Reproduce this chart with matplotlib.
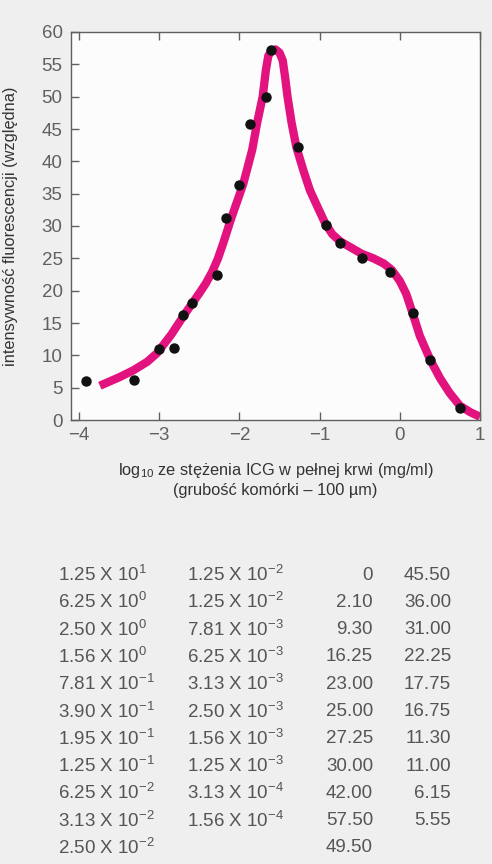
import numpy as np
import matplotlib
matplotlib.use("Agg")
import matplotlib.pyplot as plt

plt.rcParams["font.family"] = ["Liberation Sans", "DejaVu Sans"]
plt.rcParams["mathtext.default"] = "regular"

# measured points (log10 concentration, relative fluorescence)
pts_x = [-3.91, -3.32, -3.00, -2.82, -2.70, -2.59, -2.28, -2.17, -2.00, -1.87,
         -1.67, -1.61, -1.27, -0.92, -0.74, -0.475, -0.12, 0.16, 0.38, 0.75]
pts_y = [6.0, 6.2, 11.0, 11.1, 16.3, 18.1, 22.5, 31.2, 36.3, 45.8,
         49.9, 57.2, 42.2, 30.1, 27.4, 25.1, 22.9, 16.5, 9.3, 1.8]

# hand-drawn fit curve
curve_x = [-3.74, -3.5, -3.32, -3.15, -3.03, -2.85, -2.675, -2.5, -2.42, -2.34,
           -2.27, -2.2, -2.11, -2.0, -1.95, -1.84, -1.78, -1.71, -1.67, -1.64,
           -1.60, -1.55, -1.50, -1.46, -1.43, -1.40, -1.35, -1.29, -1.2, -1.12,
           -1.02, -0.93, -0.84, -0.74, -0.6, -0.475, -0.33, -0.2, -0.1, 0.0,
           0.08, 0.16, 0.25, 0.38, 0.5, 0.62, 0.75, 0.88, 1.0]
curve_y = [5.3, 6.6, 7.7, 9.0, 10.3, 13.2, 16.5, 19.6, 21.1, 22.9,
           24.9, 27.4, 30.9, 34.8, 36.6, 41.8, 45.9, 50.0, 54.1, 56.3,
           57.1, 57.3, 56.8, 55.6, 53.0, 50.0, 46.0, 42.2, 38.5, 35.5,
           32.8, 30.4, 28.7, 27.6, 26.6, 25.7, 25.0, 24.2, 23.2, 21.5,
           19.5, 16.5, 13.0, 9.3, 6.5, 4.2, 2.2, 1.2, 0.5]

x_ticks = [-4, -3, -2, -1, 0, 1]
x_tick_labels = ["\u22124", "\u22123", "\u22122", "\u22121", "0", "1"]
y_ticks = [0, 5, 10, 15, 20, 25, 30, 35, 40, 45, 50, 55, 60]

# table below the chart
col1_mant = [1.25, 6.25, 2.50, 1.56, 7.81, 3.90, 1.95, 1.25, 6.25, 3.13, 2.50]
col1_exp = [1, 0, 0, 0, -1, -1, -1, -1, -2, -2, -2]
col2_mant = [1.25, 1.25, 7.81, 6.25, 3.13, 2.50, 1.56, 1.25, 3.13, 1.56]
col2_exp = [-2, -2, -3, -3, -3, -3, -3, -3, -4, -4]
col3_vals = [0, 2.10, 9.30, 16.25, 23.00, 25.00, 27.25, 30.00, 42.00, 57.50, 49.50]
col4_vals = [45.50, 36.00, 31.00, 22.25, 17.75, 16.75, 11.30, 11.00, 6.15, 5.55]

W, H = 492, 864
fig = plt.figure(figsize=(W / 100, H / 100), dpi=100, facecolor="#efefef")
ax = fig.add_axes([71 / W, 1 - 420 / H, 409 / W, 388 / H])
ax.set_facecolor("#fcfcfc")

magenta = "#e2137f"
ax.plot(curve_x, curve_y, color=magenta, lw=6, solid_capstyle="butt",
        solid_joinstyle="round", zorder=2)
ax.plot(pts_x, pts_y, "o", color="#111111", ms=6.5, zorder=3)

ax.set_xlim(-4.1, 1.0)
ax.set_ylim(0, 60)
ax.set_xticks(x_ticks)
ax.set_xticklabels(x_tick_labels)
ax.set_yticks(y_ticks)

grey = "#606060"
for s in ax.spines.values():
    s.set_color(grey)
    s.set_linewidth(1.0)
ax.tick_params(axis="both", direction="in", length=6, width=1.0, color=grey,
               labelcolor=grey, labelsize=13.5)
ax.tick_params(axis="x", top=True, pad=5)
ax.tick_params(axis="y", pad=6)

ax.set_ylabel("intensywność fluorescencji (względna)", fontsize=11.8, color="#333333")
ax.yaxis.set_label_coords((18 - 71) / 409, 0.5)
ax.set_xlabel("log$_{10}$ ze stężenia ICG w pełnej krwi (mg/ml)\n(grubość komórki – 100 µm)",
              fontsize=11.8, color="#333333", linespacing=1.25, labelpad=12)

row_y = 575
row_h = 27.3
tcolor = "#555555"
fs = 13.5
for i, (m, e) in enumerate(zip(col1_mant, col1_exp)):
    fig.text(58 / W, 1 - (row_y + i * row_h) / H, f"{m:.2f} X 10$^{{{e}}}$",
             ha="left", va="center", fontsize=fs, color=tcolor)
for i, (m, e) in enumerate(zip(col2_mant, col2_exp)):
    fig.text(187 / W, 1 - (row_y + i * row_h) / H, f"{m:.2f} X 10$^{{{e}}}$",
             ha="left", va="center", fontsize=fs, color=tcolor)
for i, v in enumerate(col3_vals):
    txt = "0" if v == 0 else f"{v:.2f}"
    fig.text(373 / W, 1 - (row_y + i * row_h) / H, txt,
             ha="right", va="center", fontsize=fs, color=tcolor)
for i, v in enumerate(col4_vals):
    fig.text(451 / W, 1 - (row_y + i * row_h) / H, f"{v:.2f}",
             ha="right", va="center", fontsize=fs, color=tcolor)

fig.savefig("out.png", dpi=100, facecolor=fig.get_facecolor())
